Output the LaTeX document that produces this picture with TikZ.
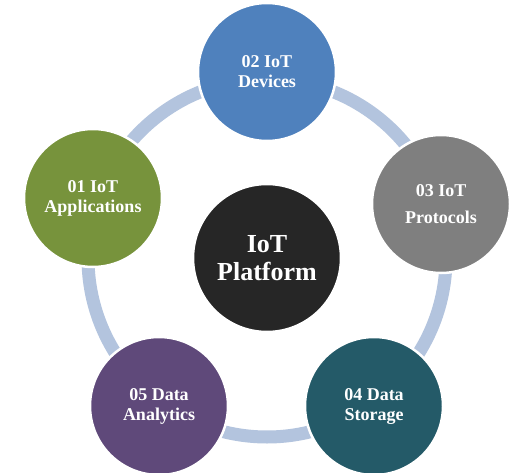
\documentclass[tikz,border=0pt]{standalone}
\usepackage{fontspec}
\setmainfont{Liberation Serif}
\begin{document}
\begin{tikzpicture}[x=1pt,y=-1pt,
  ring/.style={draw=ringblue,line width=13pt},
  bubble/.style={circle,minimum size=138pt,inner sep=0pt,draw=white,line width=2.5pt,
    text=white,align=center,font=\fontsize{18}{20}\selectfont\bfseries},
  hub/.style={circle,minimum size=148pt,inner sep=0pt,draw=white,line width=2.5pt,
    fill=hubdark,text=white,align=center,font=\fontsize{26}{28}\selectfont\bfseries}]
\definecolor{ringblue}{HTML}{B3C4DE}
\definecolor{cblue}{HTML}{4F81BD}
\definecolor{cgray}{HTML}{7F7F7F}
\definecolor{cgreen}{HTML}{77933C}
\definecolor{cteal}{HTML}{245A68}
\definecolor{cpurple}{HTML}{5F497A}
\definecolor{hubdark}{HTML}{262626}
\fill[white] (0,0) rectangle (527,473);
\useasboundingbox (0,0) rectangle (527,473);
\coordinate (c) at (267,258);
\draw[ring] (c) circle [radius=179pt];
\node[hub] (hub) at (c) {IoT\\Platform};
\node[bubble,fill=cblue] (dev) at (267,72) {02 IoT\\Devices};
\node[bubble,fill=cgray,font=\fontsize{18}{27}\selectfont\bfseries] (pro) at (441,204) {03 IoT\\Protocols};
\node[bubble,fill=cteal] (sto) at (374,406) {04 Data\\Storage};
\node[bubble,fill=cpurple] (ana) at (159,406) {05 Data\\Analytics};
\node[bubble,fill=cgreen] (app) at (93,198) {01 IoT\\Applications};
\end{tikzpicture}
\end{document}
